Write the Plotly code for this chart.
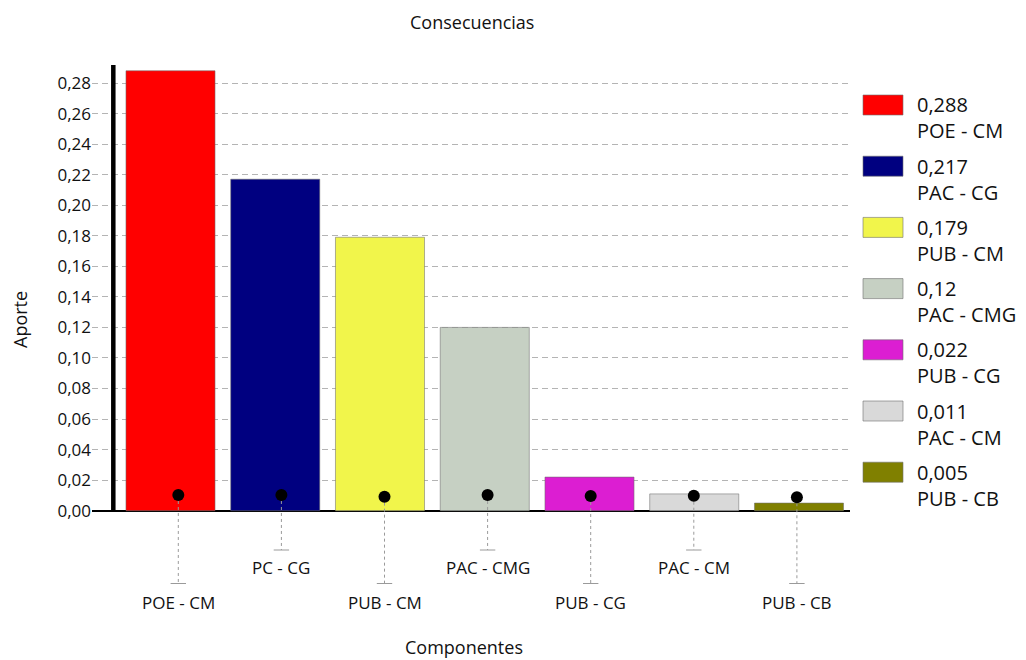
import plotly.graph_objects as go

# ---- data -------------------------------------------------------------
categories = ["POE - CM", "PC - CG", "PUB - CM", "PAC - CMG", "PUB - CG", "PAC - CM", "PUB - CB"]
legend_names = ["POE - CM", "PAC - CG", "PUB - CM", "PAC - CMG", "PUB - CG", "PAC - CM", "PUB - CB"]
aporte = [0.288, 0.217, 0.179, 0.12, 0.022, 0.011, 0.005]
punto = [0.0103, 0.0103, 0.0092, 0.0103, 0.0096, 0.0098, 0.0088]
bar_colors = ["#ff0000", "#000080", "#f1f54b", "#c6d0c3", "#dc1ed2", "#d9d9d9", "#808000"]
y_ticks = [0.00, 0.02, 0.04, 0.06, 0.08, 0.10, 0.12, 0.14, 0.16, 0.18, 0.20, 0.22, 0.24, 0.26, 0.28]

# ---- layout geometry (pixels) -----------------------------------------
W, H = 1026, 660
L, R, T, B = 92, 850, 50, 592          # plot area
Y0_PX = 510.7                           # pixel row of value 0
PX_PER_UNIT = 1527.5                    # pixels per unit of "Aporte"
SLOT_PX, FIRST_PX = 104.75, 170.5       # bar axis: slot width, first centre
DOT_SLOT_PX, DOT_FIRST_PX = 103.1, 178.3  # marker axis: slot width, first centre


def yv(px):
    """pixel row -> value on the y axis"""
    return (Y0_PX - px) / PX_PER_UNIT


def xp(px):
    return (px - L) / (R - L)


def yp(px):
    return (B - px) / (B - T)


FONT = "Open Sans, Noto Sans, sans-serif"

# staggered label rows below the axis
cap_rows = [583.5, 550.0]
label_rows = [602.7, 567.7]

fig = go.Figure()

fig.add_trace(go.Bar(
    x=categories, y=aporte,
    marker=dict(color=bar_colors, line=dict(color="rgba(110,110,110,0.55)", width=1)),
    width=0.85, showlegend=False, hoverinfo="x+y",
))

# dashed leader lines from each dot down to its label
lx, ly = [], []
for i, c in enumerate(categories):
    lx += [c, c, None]
    ly += [punto[i], yv(cap_rows[i % 2]), None]
fig.add_trace(go.Scatter(
    x=lx, y=ly, mode="lines", xaxis="x2",
    line=dict(color="#9a9a9a", width=1, dash="3px,3px"),
    showlegend=False, hoverinfo="skip",
))

# small caps at the bottom of each leader
fig.add_trace(go.Scatter(
    x=categories, y=[yv(cap_rows[i % 2]) for i in range(len(categories))],
    mode="markers", xaxis="x2", cliponaxis=False,
    marker=dict(symbol="line-ew", size=11, line=dict(color="#9a9a9a", width=1)),
    showlegend=False, hoverinfo="skip",
))

# black dots
fig.add_trace(go.Scatter(
    x=categories, y=punto, mode="markers", xaxis="x2",
    marker=dict(color="black", size=12),
    showlegend=False, hoverinfo="x+y",
))

shapes = [
    # thick vertical axis bar
    dict(type="line", xref="x", yref="y", x0=-0.546, x1=-0.546, y0=0, y1=0.2918,
         line=dict(color="black", width=4.5)),
]
annotations = [
    dict(text="Consecuencias", xref="paper", yref="paper", x=xp(472), y=yp(22),
         showarrow=False, font=dict(family=FONT, size=18, color="#111"),
         xanchor="center", yanchor="middle"),
    dict(text="Componentes", xref="paper", yref="paper", x=xp(464), y=yp(647),
         showarrow=False, font=dict(family=FONT, size=18, color="#111"),
         xanchor="center", yanchor="middle"),
    dict(text="Aporte", xref="paper", yref="paper", x=xp(20), y=yp(320),
         showarrow=False, textangle=-90, font=dict(family=FONT, size=18, color="#111"),
         xanchor="center", yanchor="middle"),
]

# category labels, staggered in two rows
for i, c in enumerate(categories):
    annotations.append(dict(text=c, xref="x2", yref="paper", x=c, y=yp(label_rows[i % 2]),
                            showarrow=False, xanchor="center", yanchor="middle",
                            font=dict(family=FONT, size=17, color="#111")))

# legend: swatch + value + name
LEG_TOP = 95.0
LEG_STEP = 61.2
for i, (v, name, col) in enumerate(zip(aporte, legend_names, bar_colors)):
    top = LEG_TOP + i * LEG_STEP
    shapes.append(dict(type="rect", xref="paper", yref="paper",
                       x0=xp(863), x1=xp(903), y0=yp(top), y1=yp(top + 20),
                       fillcolor=col, line=dict(color="rgba(110,110,110,0.6)", width=1)))
    annotations.append(dict(text=str(v).replace(".", ",") + "<br>" + name,
                            xref="paper", yref="paper",
                            x=xp(915), y=yp(top + 23), showarrow=False,
                            xanchor="left", yanchor="middle", align="left",
                            font=dict(family=FONT, size=20, color="#111")))

fig.update_layout(
    width=W, height=H,
    margin=dict(l=L, r=W - R, t=T, b=H - B, pad=0),
    paper_bgcolor="white", plot_bgcolor="white",
    separators=",.",
    bargap=0.15,
    font=dict(family=FONT, size=17, color="#111"),
    shapes=shapes, annotations=annotations,
    xaxis=dict(
        type="category", categoryorder="array", categoryarray=categories,
        range=[(L - FIRST_PX) / SLOT_PX, (R - FIRST_PX) / SLOT_PX],
        showticklabels=False, showgrid=False, zeroline=False, showline=False, ticks="",
        fixedrange=True,
    ),
    xaxis2=dict(
        type="category", categoryorder="array", categoryarray=categories,
        overlaying="x", anchor="y",
        range=[(L - DOT_FIRST_PX) / DOT_SLOT_PX, (R - DOT_FIRST_PX) / DOT_SLOT_PX],
        showticklabels=False, showgrid=False, zeroline=False, showline=False, ticks="",
        fixedrange=True,
    ),
    yaxis=dict(
        range=[yv(B), yv(T)],
        tickvals=y_ticks, tickformat=".2f",
        tickfont=dict(family=FONT, size=17, color="#111"),
        showgrid=True, gridcolor="#b4b4b4", gridwidth=1, griddash="6px,4px",
        zeroline=True, zerolinecolor="black", zerolinewidth=2,
        showline=False, ticks="", fixedrange=True,
    ),
)

fig.write_html("out.html")
